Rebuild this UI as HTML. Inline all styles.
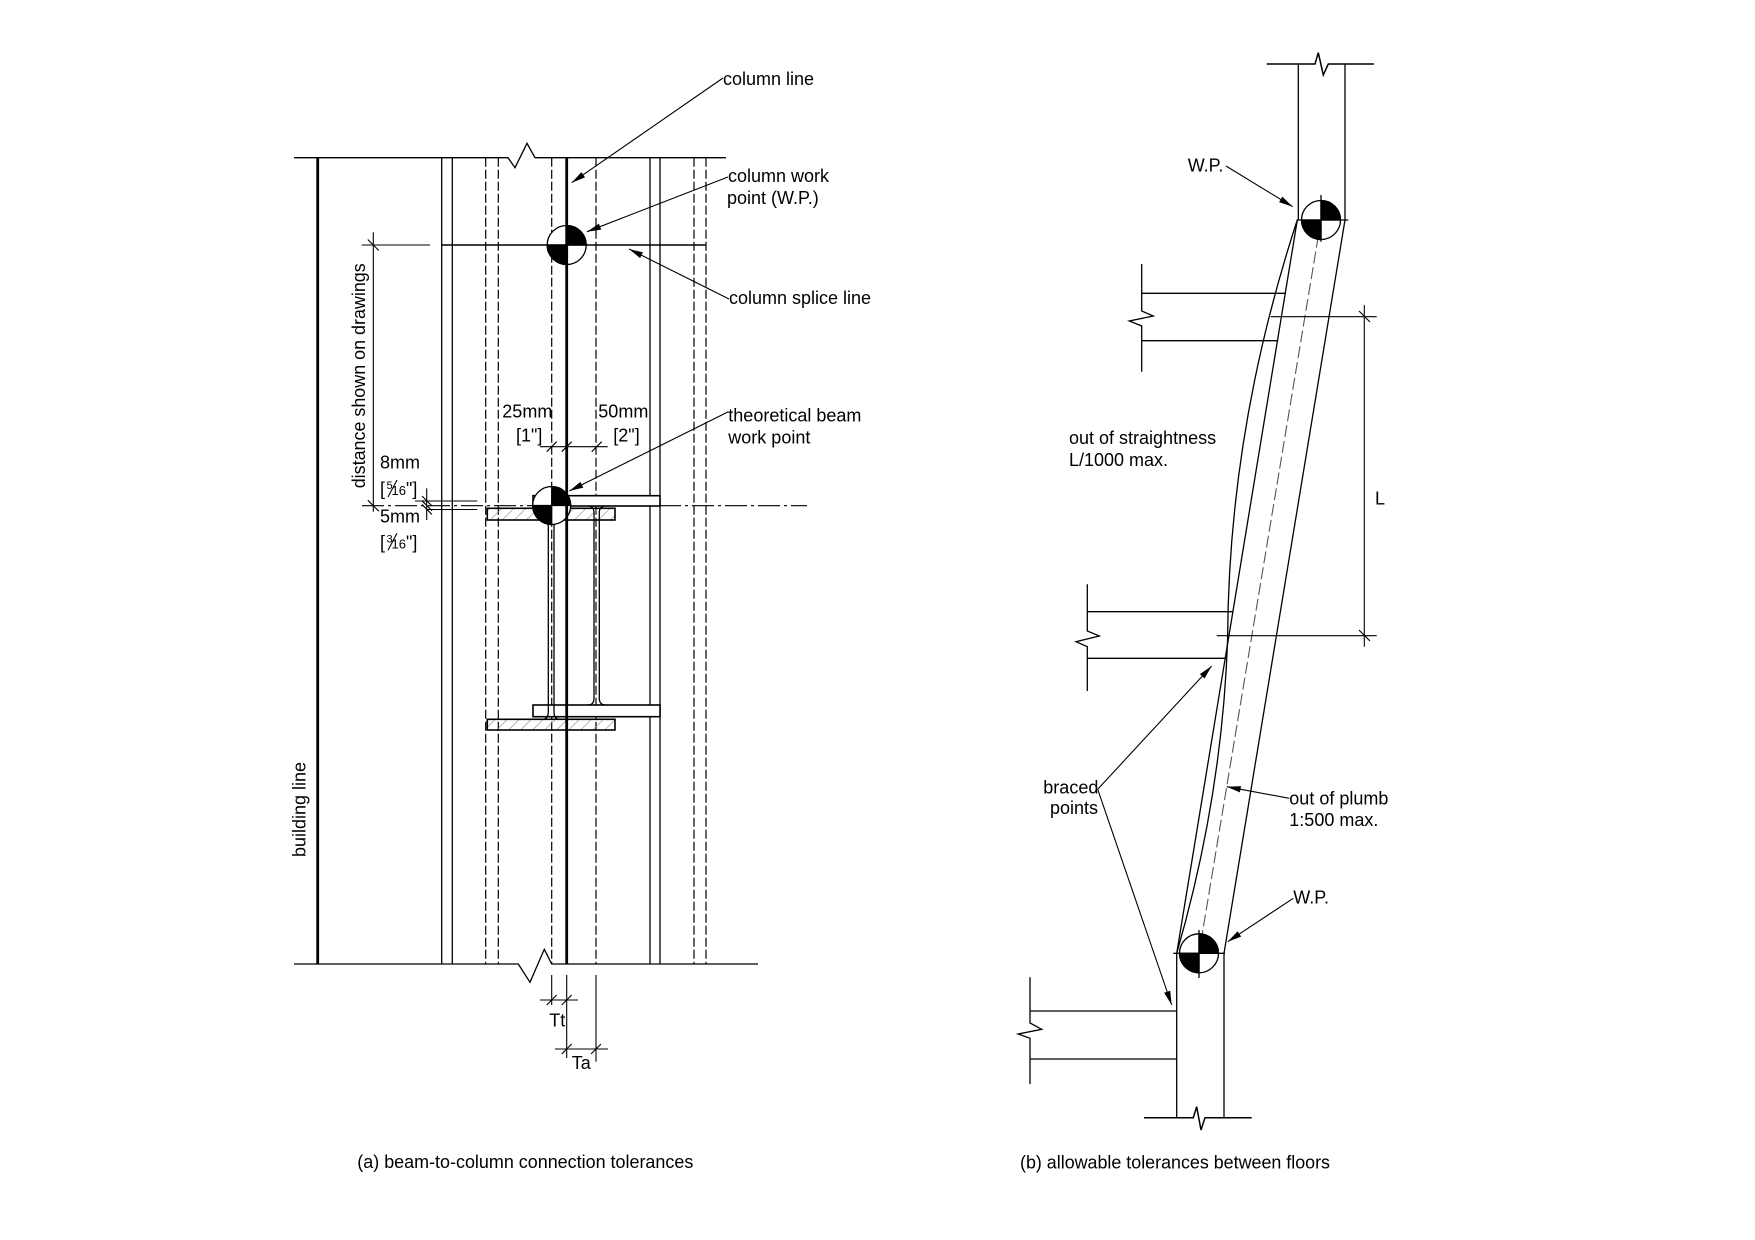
<!DOCTYPE html>
<html><head><meta charset="utf-8"><style>
html,body{margin:0;padding:0;background:#fff;}
svg{display:block;}
text{font-family:"Liberation Sans",Arial,sans-serif;font-size:18px;fill:#000;}
</style></head><body>
<svg width="1755" height="1240" viewBox="0 0 1755 1240" xmlns="http://www.w3.org/2000/svg">
<defs>
<marker id="ar" viewBox="-15 -5 16 10" markerWidth="16" markerHeight="10" refX="0" refY="0" orient="auto" markerUnits="userSpaceOnUse">
<path d="M0,0 L-14,-3.2 L-14,3.2 Z" fill="#000"/>
</marker>
<pattern id="hatch" patternUnits="userSpaceOnUse" width="8.5" height="8.5" patternTransform="rotate(45)">
<line x1="0" y1="0" x2="0" y2="8.5" stroke="#8a8a8a" stroke-width="1.2"/>
</pattern>
</defs>
<rect width="1755" height="1240" fill="#fff"/>

<!-- ============ LEFT FIGURE (a) ============ -->
<g stroke="#000" fill="none" stroke-width="1.3">
<polyline points="294,157.7 508,157.7 515,167.7 527,143.3 535,157.7 726,157.7"/>
<polyline points="294,964 518.3,964 530,982.3 544.3,949.3 551.7,964 758,964"/>
<line x1="441.7" y1="157.7" x2="441.7" y2="964"/>
<line x1="452.3" y1="157.7" x2="452.3" y2="964"/>
<line x1="650" y1="157.7" x2="650" y2="964"/>
<line x1="660" y1="157.7" x2="660" y2="964"/>
</g>
<g stroke="#000" fill="none" stroke-width="1.2" stroke-dasharray="9 3">
<line x1="485.7" y1="157.7" x2="485.7" y2="964"/>
<line x1="498.3" y1="157.7" x2="498.3" y2="964"/>
<line x1="551.7" y1="157.7" x2="551.7" y2="964"/>
<line x1="596" y1="157.7" x2="596" y2="964"/>
<line x1="694" y1="157.7" x2="694" y2="964"/>
<line x1="706" y1="157.7" x2="706" y2="964"/>
</g>
<g stroke="#000" fill="none" stroke-width="2.8">
<line x1="317.7" y1="157.7" x2="317.7" y2="964"/>
</g>
<g stroke="#000" fill="none" stroke-width="1.3">
<line x1="441.7" y1="245" x2="706" y2="245" stroke-width="1.6"/>
<line x1="361.7" y1="245" x2="430" y2="245" stroke-width="1.1"/>
<line x1="373.3" y1="232.3" x2="373.3" y2="511.7" stroke-width="1.1"/>
<line x1="367.8" y1="239.5" x2="378.8" y2="250.5" stroke-width="1.1"/>
<line x1="367.8" y1="500.2" x2="378.8" y2="511.2" stroke-width="1.1"/>
<line x1="362" y1="505.7" x2="807" y2="505.7" stroke-width="1.1" stroke-dasharray="22 4 3 4"/>
<line x1="426.7" y1="488.3" x2="426.7" y2="520" stroke-width="1.1"/>
<line x1="415" y1="501" x2="477.3" y2="501" stroke-width="1.1"/>
<line x1="426.7" y1="509.5" x2="477.3" y2="509.5" stroke-width="1.1"/>
<line x1="422" y1="496" x2="432" y2="506" stroke-width="1.1"/>
<line x1="422" y1="500.7" x2="432" y2="510.7" stroke-width="1.1"/>
<line x1="422" y1="504.5" x2="432" y2="514.5" stroke-width="1.1"/>
</g>

<!-- beams -->
<g stroke="#000" stroke-width="1.6">
<rect x="533" y="495.7" width="127" height="10.3" fill="#fff"/>
<rect x="487.3" y="508.3" width="127.7" height="11.7" fill="url(#hatch)"/>
<rect x="533" y="705" width="127" height="11.7" fill="#fff"/>
<rect x="487.3" y="719.3" width="127.7" height="10.7" fill="url(#hatch)"/>
</g>
<g stroke="#000" stroke-width="1.3" fill="none">
<path d="M542,520 Q548.3,520 548.3,527 L548.3,712 Q548.3,719.3 542,719.3"/>
<path d="M560,520 Q554,520 554,527 L554,712 Q554,719.3 560,719.3"/>
<path d="M588,506 Q594,506 594,513 L594,698 Q594,705 588,705"/>
<path d="M605.5,506 Q599.3,506 599.3,513 L599.3,698 Q599.3,705 605.5,705"/>
</g>

<!-- WP symbols left -->
<g stroke="#000" stroke-width="1.3">
<circle cx="566.7" cy="245" r="19.5" fill="#fff"/>
<path d="M566.7,245 L566.7,225.5 A19.5,19.5 0 0 1 586.2,245 Z" fill="#000"/>
<path d="M566.7,245 L566.7,264.5 A19.5,19.5 0 0 1 547.2,245 Z" fill="#000"/>
<line x1="547.2" y1="245" x2="586.2" y2="245" stroke-width="1.6"/>
<circle cx="551.7" cy="505.5" r="19" fill="#fff"/>
<path d="M551.7,505.5 L551.7,486.5 A19,19 0 0 1 570.7,505.5 Z" fill="#000"/>
<path d="M551.7,505.5 L551.7,524.5 A19,19 0 0 1 532.7,505.5 Z" fill="#000"/>
</g>
<line x1="566.7" y1="157.7" x2="566.7" y2="964" stroke="#000" stroke-width="2.8"/>

<!-- 25/50 dim -->
<g stroke="#000" stroke-width="1.1">
<line x1="540" y1="446.7" x2="607.7" y2="446.7"/>
<line x1="546.7" y1="451.7" x2="556.7" y2="441.7"/>
<line x1="561.7" y1="451.7" x2="571.7" y2="441.7"/>
<line x1="591.7" y1="451.7" x2="601.7" y2="441.7"/>
</g>

<!-- Tt / Ta dims -->
<g stroke="#000" stroke-width="1.1">
<line x1="551.7" y1="975" x2="551.7" y2="1005"/>
<line x1="566.7" y1="975" x2="566.7" y2="1058"/>
<line x1="596" y1="975" x2="596" y2="1061.7"/>
<line x1="540" y1="1000" x2="578" y2="1000"/>
<line x1="546.7" y1="1005" x2="556.7" y2="995"/>
<line x1="561.7" y1="1005" x2="571.7" y2="995"/>
<line x1="555" y1="1049" x2="608" y2="1049"/>
<line x1="561.7" y1="1054" x2="571.7" y2="1044"/>
<line x1="591" y1="1054" x2="601" y2="1044"/>
</g>

<!-- leaders left -->
<g stroke="#000" stroke-width="1.1" fill="none" marker-end="url(#ar)">
<line x1="723" y1="78" x2="571.7" y2="182.7"/>
<line x1="728" y1="177" x2="587" y2="231.7"/>
<line x1="729" y1="299" x2="629" y2="249"/>
<line x1="728.3" y1="411.7" x2="569.3" y2="491"/>
</g>

<!-- labels left -->
<text x="723" y="85">column line</text>
<text x="728" y="182">column work</text>
<text x="727" y="204">point (W.P.)</text>
<text x="729" y="304">column splice line</text>
<text x="728.3" y="421.7">theoretical beam</text>
<text x="728.3" y="443.3">work point</text>
<text x="502.3" y="417.3">25mm</text>
<text x="516" y="441.7">[1"]</text>
<text x="598.3" y="417.3">50mm</text>
<text x="613.3" y="441.7">[2"]</text>
<text x="380" y="468.3">8mm</text>
<text x="380" y="495">[</text>
<text x="386.5" y="489" style="font-size:11px">5</text>
<line x1="388" y1="497" x2="397" y2="480" stroke="#000" stroke-width="1.1"/>
<text x="391.5" y="495" style="font-size:13px">16</text>
<text x="406" y="495">"]</text>
<text x="380" y="522.7">5mm</text>
<text x="380" y="548.3">[</text>
<text x="386.5" y="542.3" style="font-size:11px">3</text>
<line x1="388" y1="550.3" x2="397" y2="533.3" stroke="#000" stroke-width="1.1"/>
<text x="391.5" y="548.3" style="font-size:13px">16</text>
<text x="406" y="548.3">"]</text>
<text x="549.3" y="1026.7">Tt</text>
<text x="571.7" y="1069">Ta</text>
<text transform="translate(365,488.3) rotate(-90)" textLength="225" lengthAdjust="spacingAndGlyphs">distance shown on drawings</text>
<text transform="translate(305.5,857) rotate(-90)">building line</text>
<text x="357.3" y="1168" textLength="336" lengthAdjust="spacingAndGlyphs">(a) beam-to-column connection tolerances</text>

<!-- ============ RIGHT FIGURE (b) ============ -->
<g stroke="#000" fill="none" stroke-width="1.3">
<polyline points="1266.7,64 1315,64 1318.3,52.7 1323.3,75 1328.3,64 1374,64" stroke-width="1.5"/>
<line x1="1298.3" y1="64" x2="1298.3" y2="220"/>
<line x1="1345" y1="64" x2="1345" y2="220"/>
<line x1="1296.7" y1="220" x2="1348.3" y2="220"/>
<line x1="1345" y1="220" x2="1224" y2="953.3"/>
<line x1="1297.3" y1="220" x2="1176.7" y2="953.3"/>
<path d="M1297.3,220 Q1228.45,430 1227.6,640 Q1222.1,796.7 1176.7,953.3"/>
<line x1="1321" y1="220" x2="1199" y2="953.3" stroke="#555" stroke-dasharray="12 4" stroke-width="1.1"/>
<line x1="1176.7" y1="953.3" x2="1176.7" y2="1117.7"/>
<line x1="1224" y1="953.3" x2="1224" y2="1117.7"/>
<line x1="1173.3" y1="953.3" x2="1225" y2="953.3"/>
<polyline points="1144,1117.7 1193.3,1117.7 1196.7,1106.7 1201,1130 1205,1117.7 1251.7,1117.7" stroke-width="1.5"/>
<line x1="1321" y1="195" x2="1321" y2="241.7"/>
<line x1="1199" y1="930" x2="1199" y2="978"/>
<line x1="1141.7" y1="293.3" x2="1286" y2="293.3"/>
<line x1="1141.7" y1="340.7" x2="1278.3" y2="340.7"/>
<polyline points="1141.7,264 1141.7,311 1153.3,316 1129.3,321 1141.7,326 1141.7,371.7"/>
<line x1="1087.3" y1="611.7" x2="1232.7" y2="611.7"/>
<line x1="1087.3" y1="658.3" x2="1225" y2="658.3"/>
<polyline points="1087.3,584.3 1087.3,631 1099.3,636 1076,641.7 1087.3,646.7 1087.3,691"/>
<line x1="1030" y1="1011" x2="1176.7" y2="1011"/>
<line x1="1030" y1="1059" x2="1176.7" y2="1059"/>
<polyline points="1030,977.3 1030,1023 1041.7,1029.3 1018.3,1034 1030,1038.3 1030,1084"/>
</g>
<g stroke="#000" stroke-width="1.1">
<line x1="1364.3" y1="305" x2="1364.3" y2="646.7"/>
<line x1="1270.7" y1="316.7" x2="1376.7" y2="316.7"/>
<line x1="1216.7" y1="635.7" x2="1376.7" y2="635.7"/>
<line x1="1359" y1="311" x2="1370" y2="322"/>
<line x1="1359" y1="630" x2="1370" y2="641"/>
</g>
<g stroke="#000" stroke-width="1.3">
<circle cx="1321" cy="220" r="19.5" fill="none"/>
<path d="M1321,220 L1321,200.5 A19.5,19.5 0 0 1 1340.5,220 Z" fill="#000"/>
<path d="M1321,220 L1321,239.5 A19.5,19.5 0 0 1 1301.5,220 Z" fill="#000"/>
<circle cx="1199" cy="953.3" r="19.5" fill="none"/>
<path d="M1199,953.3 L1199,933.8 A19.5,19.5 0 0 1 1218.5,953.3 Z" fill="#000"/>
<path d="M1199,953.3 L1199,972.8 A19.5,19.5 0 0 1 1179.5,953.3 Z" fill="#000"/>
</g>
<g stroke="#000" stroke-width="1.1" fill="none" marker-end="url(#ar)">
<line x1="1226" y1="166" x2="1292.7" y2="206.7"/>
<line x1="1097.7" y1="789.3" x2="1211.7" y2="666"/>
<line x1="1097.7" y1="789.3" x2="1171.7" y2="1005"/>
<line x1="1289.3" y1="798.3" x2="1226.7" y2="786.7"/>
<line x1="1293.3" y1="898.3" x2="1227.7" y2="941.7"/>
</g>
<text x="1187.7" y="171.7">W.P.</text>
<text x="1069" y="444">out of straightness</text>
<text x="1069" y="466">L/1000 max.</text>
<text x="1375" y="504.3">L</text>
<text x="1043.3" y="793.3">braced</text>
<text x="1050" y="814">points</text>
<text x="1289.3" y="804.3">out of plumb</text>
<text x="1289.3" y="826">1:500 max.</text>
<text x="1293.3" y="903.3">W.P.</text>
<text x="1020" y="1168.3" textLength="310" lengthAdjust="spacingAndGlyphs">(b) allowable tolerances between floors</text>
</svg>
</body></html>
